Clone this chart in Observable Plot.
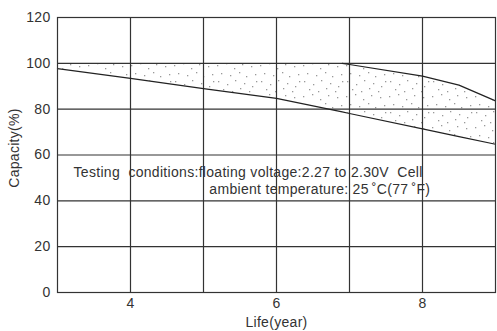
<!DOCTYPE html>
<html>
<head>
<meta charset="utf-8">
<script src="https://cdn.jsdelivr.net/npm/d3@7"></script>
<script src="https://cdn.jsdelivr.net/npm/@observablehq/plot@0.6"></script>
<style>
  html, body { margin: 0; padding: 0; background: #fff; }
  svg { font-family: "Liberation Sans", Arial, sans-serif; letter-spacing: 0.3px; }
</style>
</head>
<body>
<div id="chart"></div>
<script>
// Life (years) at which capacity was read
const years = [3, 4, 5, 6, 6.9, 7, 8, 8.5, 9];
// Lower boundary of the capacity band (%)
const lowerCapacity = [97.7, 93.4, 89.0, 84.7, 78.8, 78.1, 71.4, 68.0, 64.7];
// Upper boundary of the capacity band (%)
const upperCapacity = [100, 100, 100, 100, 100, 99.5, 94.4, 90.5, 83.6];
// Years where the upper boundary leaves the 100% line
const upperLineYears = [6.9, 7, 8, 8.5, 9];
const xTicks = [4, 6, 8];
const xGrid = [4, 5, 6, 7, 8];
const yTicks = [0, 20, 40, 60, 80, 100, 120];
const xLabel = "Life(year)";
const yLabel = "Capacity(%)";
const noteLine1 = "Testing  conditions:floating voltage:2.27 to 2.30V  Cell";
const noteLine2 = "ambient temperature: 25\u2009\u02DAC(77\u2009\u02DAF)";

const band = years.map((x, i) => ({x, lo: lowerCapacity[i], hi: upperCapacity[i]}));
const upperLine = band.filter(d => upperLineYears.includes(d.x));

const ink = "#333";
const chart = Plot.plot({
  width: 497,
  height: 331,
  marginLeft: 57,
  marginRight: 2,
  marginTop: 17,
  marginBottom: 39,
  style: {fontFamily: "'Liberation Sans', Arial, sans-serif", fontSize: "14px", color: ink},
  x: {domain: [3, 9]},
  y: {domain: [0, 120]},
  marks: [
    Plot.areaY(band, {x: "x", y1: "lo", y2: "hi", fill: "url(#stipple)"}),
    Plot.ruleX(xGrid, {stroke: ink, strokeWidth: 1.2}),
    Plot.ruleY(yTicks, {stroke: ink, strokeWidth: 1.2}),
    Plot.line(band, {x: "x", y: "lo", stroke: "#222", strokeWidth: 1.2}),
    Plot.line(upperLine, {x: "x", y: "hi", stroke: "#222", strokeWidth: 1.2}),
    Plot.frame({stroke: ink, strokeWidth: 1.2}),
    Plot.axisX({ticks: xTicks, tickFormat: "d", tickSize: 0, tickPadding: 6, label: xLabel, labelAnchor: "center", labelArrow: "none", labelOffset: 34, fontSize: 14}),
    Plot.axisY({ticks: yTicks, tickFormat: "d", tickSize: 0, tickPadding: 7, label: null, fontSize: 14}),
    Plot.text([yLabel], {frameAnchor: "left", textAnchor: "middle", text: d => d, rotate: -90, dx: -43, dy: -7, fill: ink, fontSize: 14}),
    Plot.text([noteLine1], {x: 3.22, y: 52.5, text: d => d, textAnchor: "start", fill: ink, fontSize: 14}),
    Plot.text([noteLine2], {x: 5.08, y: 45.1, text: d => d, textAnchor: "start", fill: ink, fontSize: 14})
  ]
});

// stipple pattern for the capacity band
const ns = "http://www.w3.org/2000/svg";
const defs = document.createElementNS(ns, "defs");
const pat = document.createElementNS(ns, "pattern");
pat.setAttribute("id", "stipple");
pat.setAttribute("patternUnits", "userSpaceOnUse");
pat.setAttribute("width", 43);
pat.setAttribute("height", 31);
const dots = [[2,3],[11,1],[19,6],[27,2],[36,4],[6,11],[15,13],[24,10],[31,14],[40,12],
              [3,19],[12,22],[20,18],[29,21],[37,24],[8,27],[17,29],[25,26],[34,29],[41,19]];
for (const [dx, dy] of dots) {
  const r = document.createElementNS(ns, "rect");
  r.setAttribute("x", dx); r.setAttribute("y", dy);
  r.setAttribute("width", 1.3); r.setAttribute("height", 1.3);
  r.setAttribute("fill", "#999");
  pat.appendChild(r);
}
defs.appendChild(pat);
chart.insertBefore(defs, chart.firstChild);
document.getElementById("chart").appendChild(chart);
</script>
</body>
</html>
